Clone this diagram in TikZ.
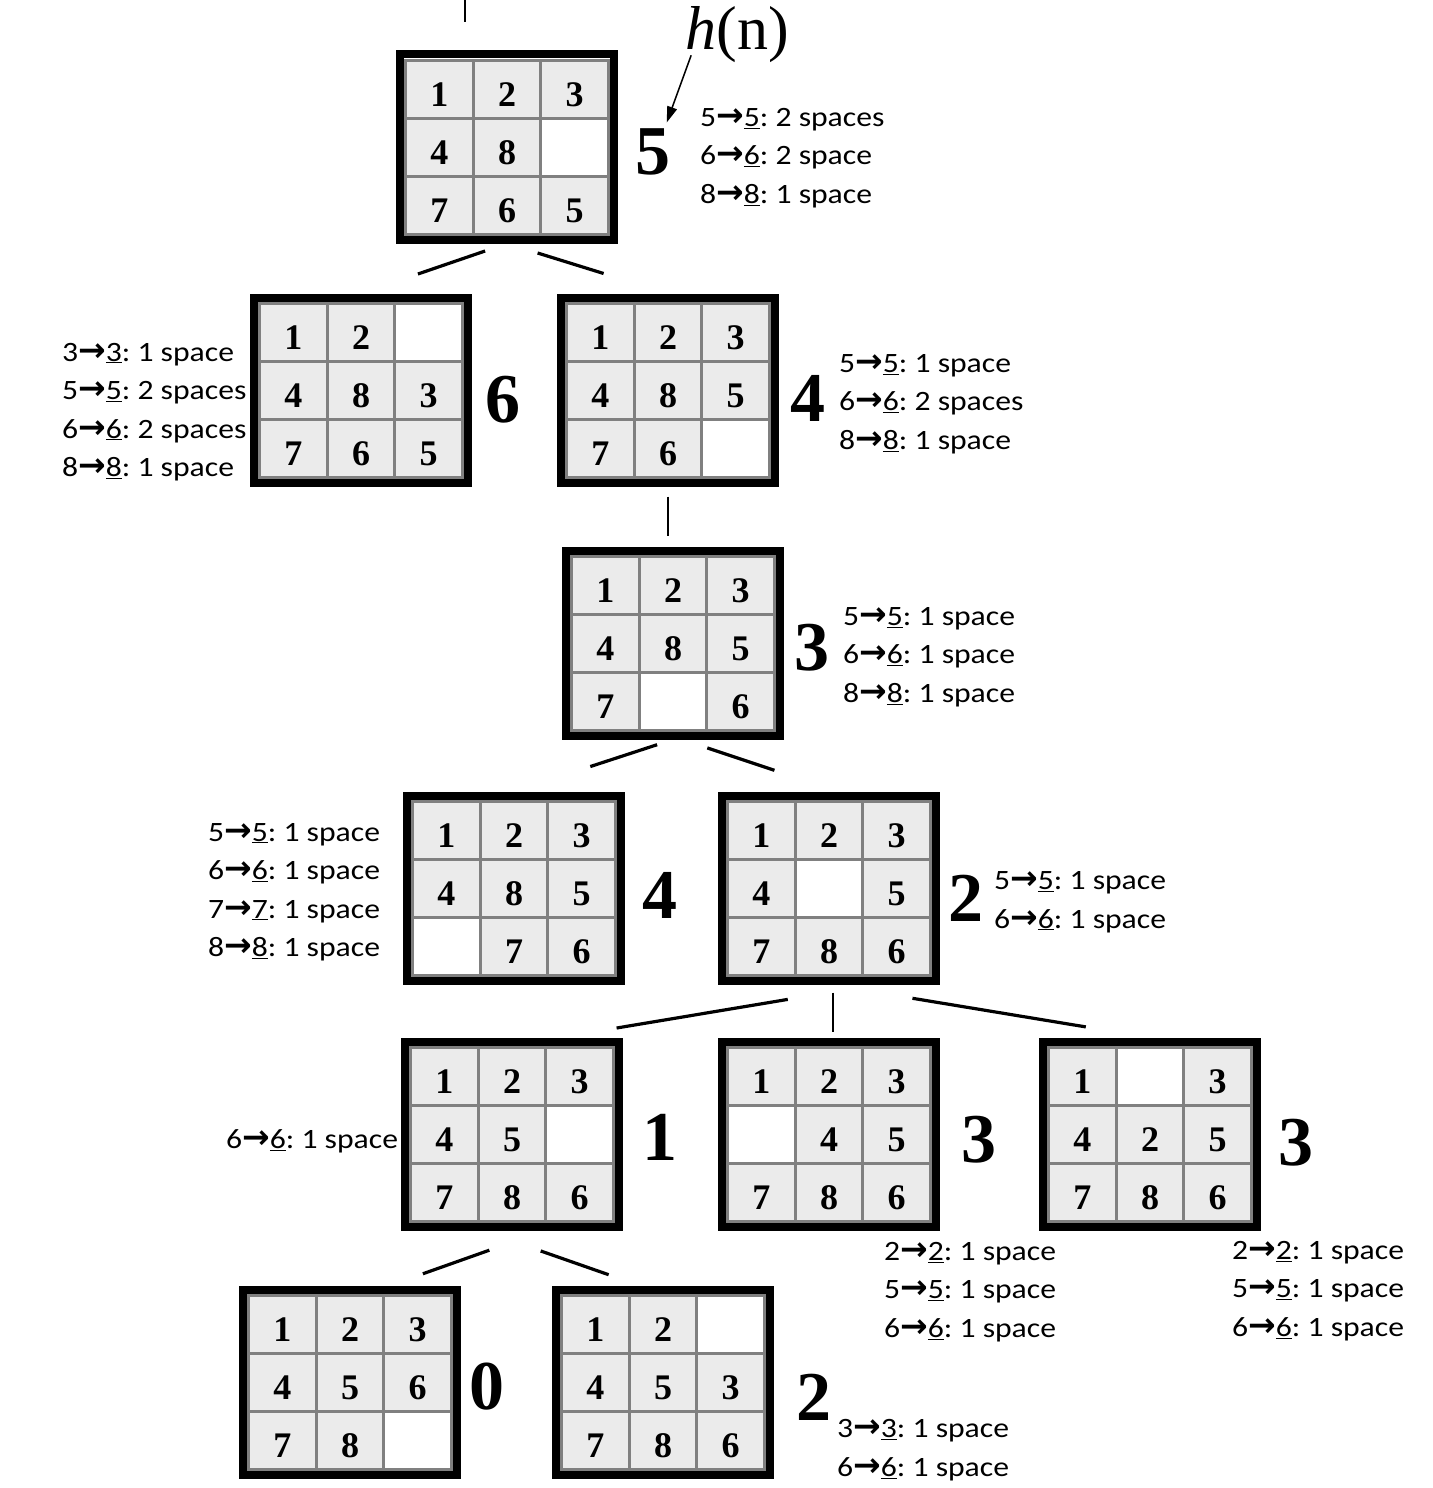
\documentclass[tikz,border=0pt]{standalone}
\usepackage{fontspec}
\setmainfont{Liberation Serif}
\newfontfamily\notefont{Carlito}[FakeStretch=1.13]
\newfontfamily\arrowfont{DejaVu Sans}
\newcommand\goes{{\arrowfont\bfseries\fontsize{33}{33}\selectfont →}}
\usetikzlibrary{arrows.meta,positioning,matrix,calc}
\definecolor{tilegray}{RGB}{235,235,235}
\definecolor{gridgray}{RGB}{128,128,128}

\begin{document}
\begin{tikzpicture}[x=1pt,y=-1pt,
 board/.style={matrix of nodes, draw=black, line width=8pt, inner sep=4pt, column sep=-3pt, row sep=-3pt,
   nodes={draw=gridgray, fill=tilegray, line width=3pt, minimum width=67.7pt, minimum height=58pt, inner sep=0pt, anchor=center, text height=34pt, text depth=0pt, font=\fontsize{36}{36}\selectfont\bfseries}},
 gap/.style={fill=white},
 hval/.style={font=\fontsize{70}{70}\selectfont\bfseries, inner sep=0pt},
 note/.style={font=\notefont\fontsize{28}{38.5}\selectfont\frenchspacing, align=left, anchor=west, inner sep=0pt},
 edge/.style={line width=3.2pt},
 stem/.style={line width=1.5pt},
 pointer/.style={-{Triangle[length=16pt,width=10pt]}, line width=1.5pt}]
\useasboundingbox (0,0) rectangle (1432,1488);
% boards, top to bottom
\matrix (b1) [board] at (507,147) {1 & 2 & 3\\ 4 & 8 & |[gap]| \\ 7 & 6 & 5\\};
\matrix (b2) [board] at (361,390) {1 & 2 & |[gap]| \\ 4 & 8 & 3\\ 7 & 6 & 5\\};
\matrix (b3) [board] at (668,390) {1 & 2 & 3\\ 4 & 8 & 5\\ 7 & 6 & |[gap]| \\};
\matrix (b4) [board] at (673,643) {1 & 2 & 3\\ 4 & 8 & 5\\ 7 & |[gap]| & 6\\};
\matrix (b5) [board] at (514,888) {1 & 2 & 3\\ 4 & 8 & 5\\ |[gap]| & 7 & 6\\};
\matrix (b6) [board] at (829,888) {1 & 2 & 3\\ 4 & |[gap]| & 5\\ 7 & 8 & 6\\};
\matrix (b7) [board] at (512,1134) {1 & 2 & 3\\ 4 & 5 & |[gap]| \\ 7 & 8 & 6\\};
\matrix (b8) [board] at (829,1134) {1 & 2 & 3\\ |[gap]| & 4 & 5\\ 7 & 8 & 6\\};
\matrix (b9) [board] at (1150,1134) {1 & |[gap]| & 3\\ 4 & 2 & 5\\ 7 & 8 & 6\\};
\matrix (b10) [board] at (350,1382) {1 & 2 & 3\\ 4 & 5 & 6\\ 7 & 8 & |[gap]| \\};
\matrix (b11) [board] at (663,1382) {1 & 2 & |[gap]| \\ 4 & 5 & 3\\ 7 & 8 & 6\\};
% heuristic values
\node[hval] (h1) at (653,152) {5};
\node[hval] (h2) at (503,400) {6};
\node[hval] (h3) at (808,398) {4};
\node[hval] (h4) at (812,648) {3};
\node[hval] (h5) at (660,895) {4};
\node[hval] (h6) at (966,898) {2};
\node[hval] (h7) at (660,1137) {1};
\node[hval] (h8) at (979,1140) {3};
\node[hval] (h9) at (1296,1143) {3};
\node[hval] (h10) at (487,1387) {0};
\node[hval] (h11) at (814,1397) {2};
\node[font=\fontsize{62}{62}\selectfont, inner sep=0pt] (hn) at (737,35) {\textit{h}(n)};
\draw[pointer] ($(hn.south west)+(6,-8)$) -- ($(h1.north east)+(-4,-6)$);
% distance notes
\node[note] (n1) at (700,158) {5\goes\underline{5}: 2 spaces\\6\goes\underline{6}: 2 space\\8\goes\underline{8}: 1 space};
\node[note] (n2) at (62,412) {3\goes\underline{3}: 1 space\\5\goes\underline{5}: 2 spaces\\6\goes\underline{6}: 2 spaces\\8\goes\underline{8}: 1 space};
\node[note] (n3) at (839,404) {5\goes\underline{5}: 1 space\\6\goes\underline{6}: 2 spaces\\8\goes\underline{8}: 1 space};
\node[note] (n4) at (843,657) {5\goes\underline{5}: 1 space\\6\goes\underline{6}: 1 space\\8\goes\underline{8}: 1 space};
\node[note] (n5) at (208,892) {5\goes\underline{5}: 1 space\\6\goes\underline{6}: 1 space\\7\goes\underline{7}: 1 space\\8\goes\underline{8}: 1 space};
\node[note] (n6) at (994,902) {5\goes\underline{5}: 1 space\\6\goes\underline{6}: 1 space};
\node[note] (n7) at (226,1141) {6\goes\underline{6}: 1 space};
\node[note] (n8) at (884,1292) {2\goes\underline{2}: 1 space\\5\goes\underline{5}: 1 space\\6\goes\underline{6}: 1 space};
\node[note] (n9) at (1232,1291) {2\goes\underline{2}: 1 space\\5\goes\underline{5}: 1 space\\6\goes\underline{6}: 1 space};
\node[note] (n11) at (837,1450) {3\goes\underline{3}: 1 space\\6\goes\underline{6}: 1 space};
% tree edges
\coordinate (up) at (465,0);
\draw[stem] (up) -- ($(up)+(0,22)$);
\draw[edge] ($(b1.south)!.15!(b2.north)$) -- ($(b1.south)!.61!(b2.north)$);
\draw[edge] ($(b1.south)!.19!(b3.north)$) -- ($(b1.south)!.6!(b3.north)$);
\draw[stem] ($(b3.south)+(0,10)$) -- ($(b3.south |- b4.north)+(0,-11)$);
\draw[edge] ($(b4.south)!.1!(b5.north)$) -- ($(b4.south)!.52!(b5.north)$);
\draw[edge] ($(b4.south)!.22!(b6.north)+(0,-3)$) -- ($(b4.south)!.65!(b6.north)+(0,-3)$);
\draw[edge] ($(b6.south)!.13!(b7.north)+(0,8)$) -- ($(b6.south)!.67!(b7.north)+(0,8)$);
\draw[stem] ($(b6.south)+(4,8)$) -- ($(b6.south |- b8.north)+(4,-6)$);
\draw[edge] ($(b6.south)!.26!(b9.north)$) -- ($(b6.south)!.8!(b9.north)$);
\draw[edge] ($(b7.south)!.14!(b10.north)+(0,12)$) -- ($(b7.south)!.55!(b10.north)+(0,13)$);
\draw[edge] ($(b7.south)!.19!(b11.north)+(0,10)$) -- ($(b7.south)!.64!(b11.north)+(0,9)$);
\end{tikzpicture}
\end{document}
